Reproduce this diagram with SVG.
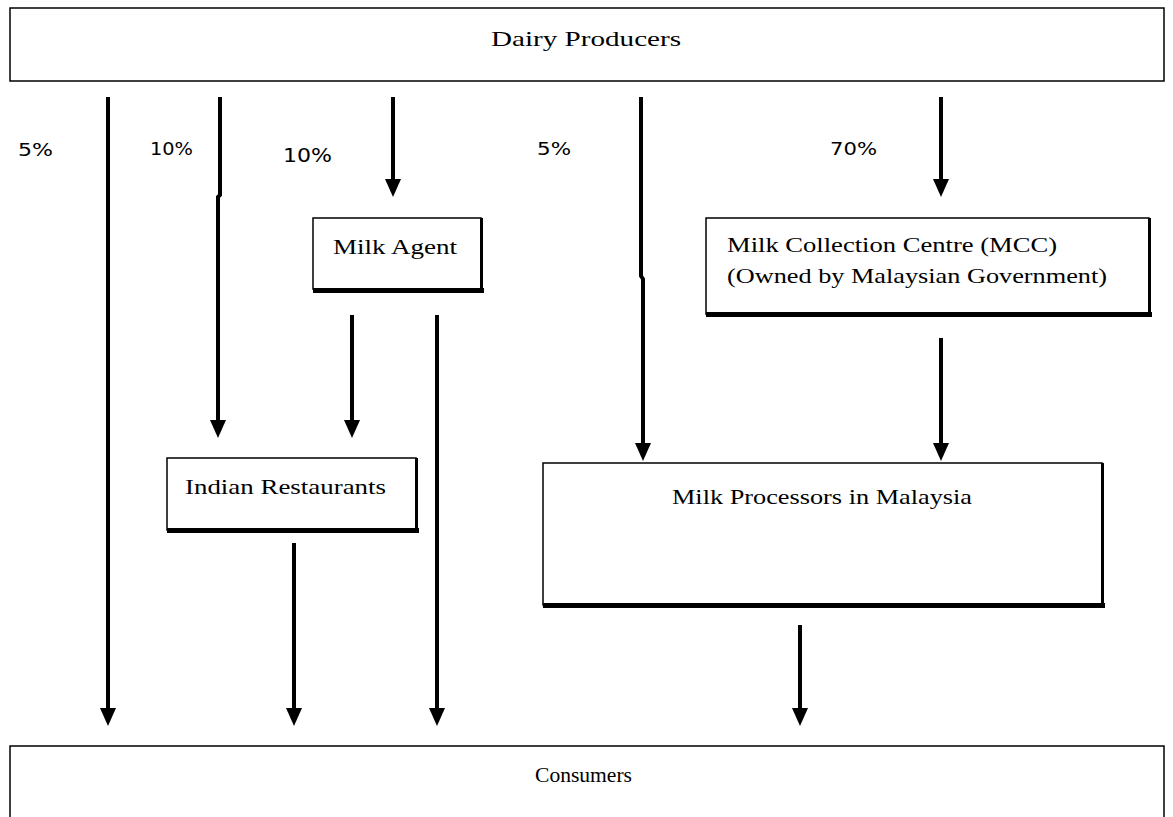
<svg xmlns="http://www.w3.org/2000/svg" width="1173" height="817" viewBox="0 0 1173 817">
<style>
.box{fill:#fff;stroke:#000;stroke-width:1.5}
.sh{fill:#000}
.t{font-family:"Liberation Serif","Times New Roman",serif;font-size:21px;fill:#000}
.p{font-family:"DejaVu Sans","Liberation Sans",sans-serif;font-size:17px;fill:#000}
</style>
<rect width="1173" height="817" fill="#fff"/>
<g id="connectors">
<g stroke="#000" stroke-width="4" fill="none">
<line x1="108" y1="97" x2="108" y2="712"/>
<polyline points="220,97 220,195 218,197 218,424"/>
<line x1="393" y1="97" x2="393" y2="182"/>
<polyline points="641,97 641,276 643,279 643,446"/>
<line x1="941" y1="97" x2="941" y2="182"/>
<line x1="352" y1="315" x2="352" y2="423"/>
<line x1="437" y1="315" x2="437" y2="712"/>
<line x1="941" y1="338" x2="941" y2="446"/>
<line x1="294" y1="543" x2="294" y2="712"/>
<line x1="800" y1="625" x2="800" y2="712"/>
</g>
<g fill="#000">
<path d="M100,708 L116,708 L108,726 Z"/>
<path d="M210,420 L226,420 L218,438 Z"/>
<path d="M385,179 L401,179 L393,197 Z"/>
<path d="M635,443 L651,443 L643,461 Z"/>
<path d="M933,179 L949,179 L941,197 Z"/>
<path d="M344,420 L360,420 L352,438 Z"/>
<path d="M429,708 L445,708 L437,726 Z"/>
<path d="M933,443 L949,443 L941,461 Z"/>
<path d="M286,708 L302,708 L294,726 Z"/>
<path d="M792,708 L808,708 L800,726 Z"/>
</g>
<text class="p" x="18" y="156" textLength="35" lengthAdjust="spacingAndGlyphs">5%</text>
<text class="p" x="150" y="155" textLength="43" lengthAdjust="spacingAndGlyphs">10%</text>
<text class="p" x="283" y="162" textLength="49" lengthAdjust="spacingAndGlyphs" style="font-size:19px">10%</text>
<text class="p" x="537" y="155" textLength="34" lengthAdjust="spacingAndGlyphs">5%</text>
<text class="p" x="830" y="155" textLength="47" lengthAdjust="spacingAndGlyphs">70%</text>
</g>
<g id="dairy">
<rect class="box" x="10" y="8" width="1154" height="73"/>
<text class="t" x="491" y="46" textLength="190" lengthAdjust="spacingAndGlyphs">Dairy Producers</text>
</g>
<g id="agent">
<rect class="box" x="313" y="218" width="168" height="71"/>
<rect class="sh" x="313" y="288" width="171" height="5"/>
<rect class="sh" x="480" y="218" width="3" height="75"/>
<text class="t" x="333" y="254" textLength="124" lengthAdjust="spacingAndGlyphs">Milk Agent</text>
</g>
<g id="mcc">
<rect class="box" x="706" y="218" width="443" height="96"/>
<rect class="sh" x="706" y="312" width="446" height="5"/>
<rect class="sh" x="1148" y="218" width="3" height="99"/>
<text class="t" x="727" y="252" textLength="330" lengthAdjust="spacingAndGlyphs">Milk Collection Centre  (MCC)</text>
<text class="t" x="727" y="283" textLength="380" lengthAdjust="spacingAndGlyphs">(Owned by Malaysian Government)</text>
</g>
<g id="indian">
<rect class="box" x="167" y="458" width="249" height="72"/>
<rect class="sh" x="167" y="528" width="252" height="5"/>
<rect class="sh" x="415" y="458" width="3" height="75"/>
<text class="t" x="185" y="494" textLength="201" lengthAdjust="spacingAndGlyphs">Indian Restaurants</text>
</g>
<g id="processors">
<rect class="box" x="543" y="463" width="559" height="142"/>
<rect class="sh" x="543" y="603" width="562" height="5"/>
<rect class="sh" x="1101" y="463" width="3" height="145"/>
<text class="t" x="672" y="504" textLength="300" lengthAdjust="spacingAndGlyphs">Milk Processors in Malaysia</text>
</g>
<g id="consumers">
<rect class="box" x="10" y="746" width="1154" height="90"/>
<text class="t" x="535" y="782" textLength="97" lengthAdjust="spacingAndGlyphs">Consumers</text>
</g>
</svg>
